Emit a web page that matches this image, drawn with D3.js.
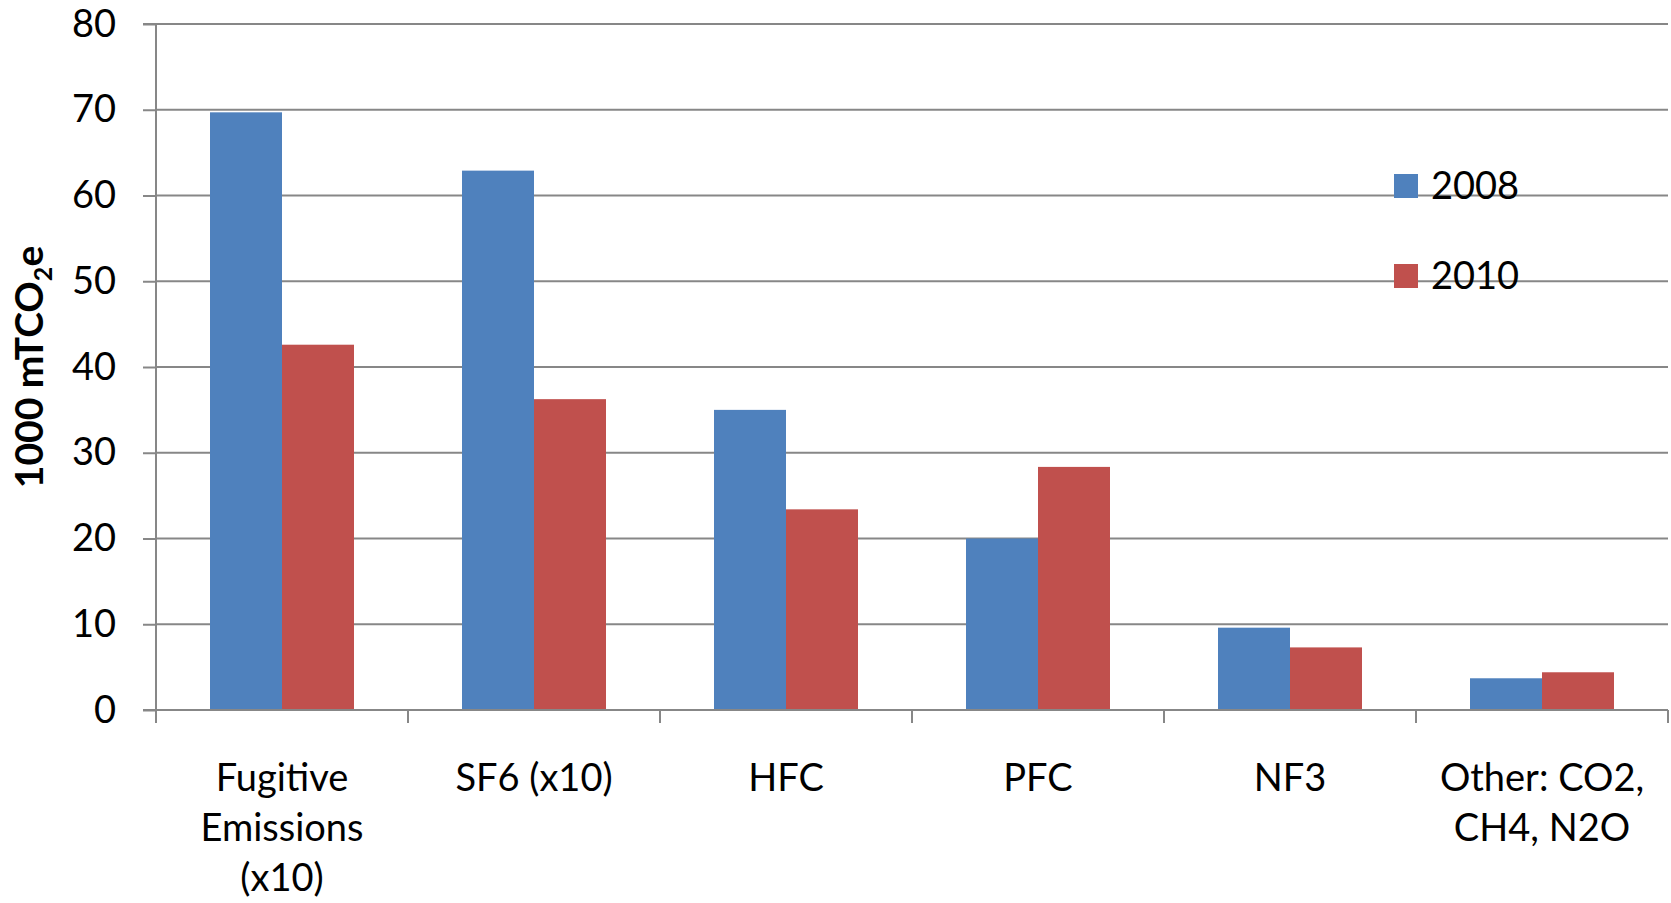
<!DOCTYPE html>
<html>
<head>
<meta charset="utf-8">
<script src="https://cdn.jsdelivr.net/npm/d3@7"></script>
<style>
  html, body { margin: 0; padding: 0; background: #fff; }
  svg { display: block; }
  text { font-family: Lato, "Open Sans", sans-serif; fill: #000; }
</style>
</head>
<body>
<svg id="chart" width="1671" height="903"></svg>
<script>
const categories = ["Fugitive\nEmissions\n(x10)", "SF6 (x10)", "HFC", "PFC", "NF3", "Other: CO2,\nCH4, N2O"];
const seriesNames = ["2008", "2010"];
const values2008 = [69.7, 62.9, 35.0, 20.0, 9.6, 3.7];
const values2010 = [42.6, 36.25, 23.4, 28.35, 7.3, 4.4];
const yTicks = [0, 10, 20, 30, 40, 50, 60, 70, 80];
const colors = ["#4F81BD", "#C0504D"];

const svg = d3.select("#chart");
const mLeft = 156, mRight = 1668, mTop = 24, mBottom = 710;
const fs = 38;

const x = d3.scaleBand().domain(categories).range([mLeft, mRight]).paddingInner(0).paddingOuter(0);
const xInner = d3.scaleBand().domain(seriesNames).range([0, x.bandwidth()]).paddingInner(0).paddingOuter(0.75);
const y = d3.scaleLinear().domain([0, 80]).range([mBottom, mTop]);

const grid = "#878787";

// gridlines
svg.append("g").selectAll("line").data(yTicks.filter(d => d > 0)).join("line")
  .attr("x1", mLeft).attr("x2", mRight)
  .attr("y1", d => y(d)).attr("y2", d => y(d))
  .attr("stroke", grid).attr("stroke-width", 2);

// y axis
const yAxis = svg.append("g").attr("transform", `translate(${mLeft},0)`)
  .call(d3.axisLeft(y).tickValues(yTicks).tickSize(13).tickPadding(27));
yAxis.select(".domain").attr("stroke", grid).attr("stroke-width", 2).attr("d", `M-13,${mTop}H0V${mBottom}`);
yAxis.selectAll(".tick line").attr("stroke", grid).attr("stroke-width", 2);
yAxis.selectAll(".tick text").attr("font-size", fs).attr("font-family", "Lato").attr("fill", "#000");

// bars
const data = categories.map((c, i) => ({ c, vals: [values2008[i], values2010[i]] }));
const groups = svg.append("g").selectAll("g").data(data).join("g")
  .attr("transform", d => `translate(${x(d.c)},0)`);
groups.selectAll("rect").data(d => d.vals.map((v, j) => ({ v, s: seriesNames[j], j }))).join("rect")
  .attr("x", d => xInner(d.s))
  .attr("width", xInner.bandwidth())
  .attr("y", d => y(d.v))
  .attr("height", d => y(0) - y(d.v))
  .attr("fill", d => colors[d.j]);

// x axis
const xAxis = svg.append("g").attr("transform", `translate(0,${mBottom})`);
xAxis.append("line").attr("x1", mLeft - 13).attr("x2", mRight).attr("y1", 0).attr("y2", 0)
  .attr("stroke", grid).attr("stroke-width", 2);
const bounds = categories.map(c => x(c)).concat([mRight]);
xAxis.selectAll("line.tk").data(bounds).join("line").attr("class", "tk")
  .attr("x1", d => d).attr("x2", d => d).attr("y1", 0).attr("y2", 13)
  .attr("stroke", grid).attr("stroke-width", 2);
categories.forEach(c => {
  const t = xAxis.append("text").attr("text-anchor", "middle").attr("font-size", fs)
    .attr("x", x(c) + x.bandwidth() / 2).attr("y", 81);
  c.split("\n").forEach((ln, i) => {
    t.append("tspan").attr("x", x(c) + x.bandwidth() / 2).attr("dy", i === 0 ? 0 : 50).text(ln);
  });
});

// y title
const yt = svg.append("text").attr("transform", `translate(43,${(mTop + mBottom) / 2}) rotate(-90)`)
  .attr("text-anchor", "middle").attr("font-size", 39).attr("font-weight", "bold");
yt.append("tspan").text("1000 mTCO");
yt.append("tspan").attr("font-size", 25).attr("dy", 9).text("2");
yt.append("tspan").attr("dy", -9).text("e");

// legend
const lg = svg.append("g").selectAll("g").data(seriesNames).join("g")
  .attr("transform", (d, i) => `translate(1394,${174 + i * 90})`);
lg.append("rect").attr("width", 24).attr("height", 24).attr("fill", (d, i) => colors[i]);
lg.append("text").attr("x", 37).attr("y", 12).attr("dy", "0.35em").attr("font-size", fs).text(d => d);
</script>
</body>
</html>
